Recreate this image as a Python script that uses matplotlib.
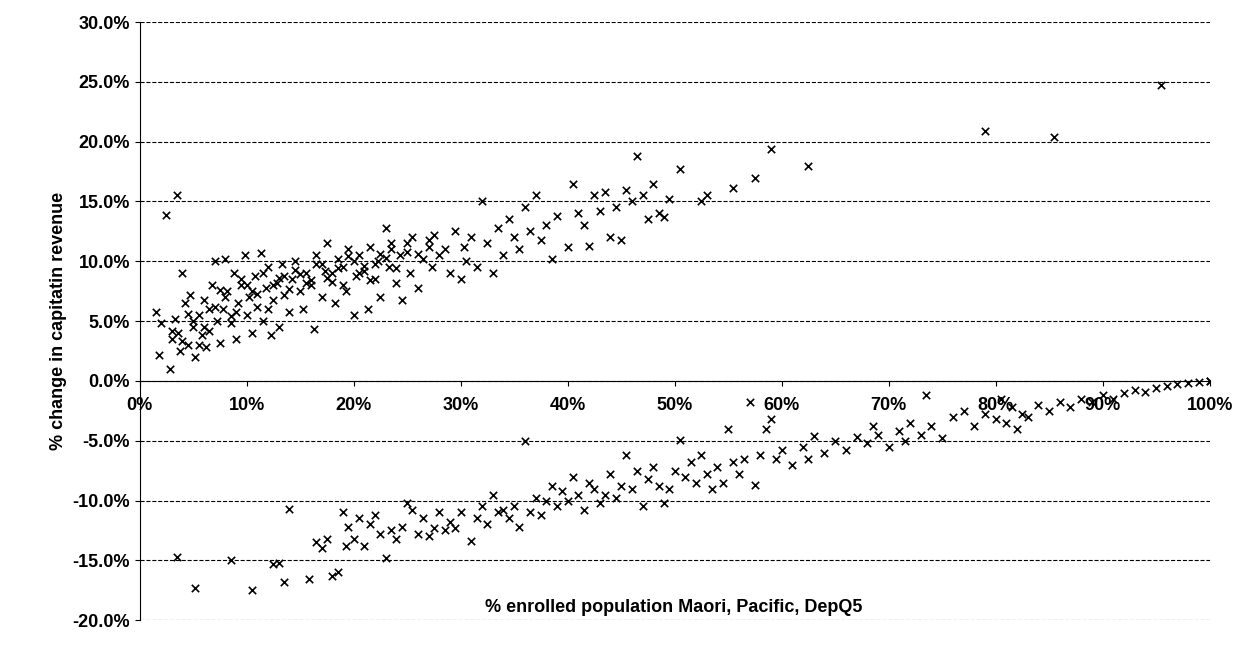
import numpy as np
import matplotlib.pyplot as plt
from matplotlib.ticker import FuncFormatter

plt.rcParams['font.family'] = ['Liberation Sans', 'DejaVu Sans']
plt.rcParams['axes.unicode_minus'] = False

# upper group (x %, y %)
upper_x = [1.5,1.8,2,2.5,2.8,3,3.3,3.5,3.6,3.8,4,4.2,4.5,4.7,5,5.2,5.5,5.8,6,6.2,6.5,6.8,7,7.2,7.5,7.8,8,8.2,8.5,8.8,
           9,9.2,9.5,9.8,10,10.2,10.5,10.8,11,11.3,11.5,11.8,12,12.3,12.5,12.8,13,13.3,13.5,14,14.2,14.5,15,15.3,15.5,
           16,16.3,16.5,17,17.3,17.5,18,18.3,18.5,19,19.3,19.5,20,20.2,20.5,21,21.3,21.5,22,22.3,22.5,23,23.3,23.5,24,
           24.3,24.5,25,25.3,25.5,26,26.5,27,27.3,27.5,28,28.5,29,29.5,30,30.3,30.5,31,31.5,32,32.5,33,33.5,34,34.5,35,
           35.5,36,36.5,37,37.5,38,38.5,39,40,40.5,41,41.5,42,42.5,43,43.5,44,44.5,45,45.5,46,46.5,47,47.5,48,48.5,49,
           49.5,50.5,52.5,53,55.5,57.5,59,62.5,79,85.5,95.5]
upper_y = [5.8,2.2,4.8,13.9,1.0,3.5,5.2,15.5,4.0,2.5,9.0,6.5,3.0,7.2,4.5,2.0,5.5,3.8,6.8,2.8,4.2,8.0,10.0,5.0,3.2,6.0,10.2,
           7.5,4.8,9.0,3.5,6.5,8.5,10.5,5.5,7.0,4.0,8.8,6.2,10.7,5.0,7.8,9.5,3.8,6.8,8.2,4.5,9.8,7.2,5.8,8.5,10.0,7.5,6.0,
           9.0,8.0,4.3,10.5,7.0,9.2,11.5,8.3,6.5,10.2,9.5,7.5,11.0,5.5,8.8,10.5,9.2,6.0,11.2,8.5,10.0,7.0,12.8,9.5,11.0,
           8.2,10.5,6.8,11.5,9.0,12.0,7.8,10.2,11.8,9.5,12.2,10.5,11.0,9.0,12.5,8.5,11.2,10.0,12.0,9.5,15.0,11.5,9.0,12.8,
           10.5,13.5,12.0,11.0,14.5,12.5,15.5,11.8,13.0,10.2,13.8,11.2,16.5,14.0,13.0,11.3,15.5,14.2,15.8,12.0,14.5,11.8,
           16.0,15.0,18.8,15.5,13.5,16.5,14.0,13.7,15.2,17.7,15.0,15.5,16.1,17.0,19.4,18.0,20.9,20.4,24.7]

# extra points in the dense part of the upper group
dense_x = [3,4,5,6,7,8,9,10,11,12,13,14,15,16,17,18,19,20,21,22,23,24,25,26,27,
           4.5,5.5,6.5,7.5,8.5,9.5,10.5,11.5,12.5,13.5,14.5,15.5,16.5,17.5,18.5,19.5,20.5,21.5,22.5,23.5]
dense_y = [4.2,3.3,5.0,4.5,6.2,7.0,5.8,8.0,7.3,6.0,8.6,7.7,8.9,8.4,9.8,9.0,8.0,10.0,9.6,9.8,10.3,9.4,10.8,10.6,11.2,
           5.6,3.0,6.0,7.6,5.4,8.0,7.5,9.0,8.0,8.8,9.3,8.2,9.8,8.6,9.4,10.4,9.0,8.4,10.6,11.5]

# lower group (x %, y %)
lower_x = [3.5,5.2,8.5,10.5,12.5,13,13.5,14,15.8,16.5,17,17.5,18,18.5,19,19.3,19.5,20,20.5,21,21.5,22,22.5,23,23.5,24,24.5,
           25,25.5,26,26.5,27,27.5,28,28.5,29,29.5,30,31,31.5,32,32.5,33,33.5,34,34.5,35,35.5,36,36.5,37,37.5,38,38.5,39,
           39.5,40,40.5,41,41.5,42,42.5,43,43.5,44,44.5,45,45.5,46,46.5,47,47.5,48,48.5,49,49.5,50,50.5,51,51.5,52,52.5,
           53,53.5,54,54.5,55,55.5,56,56.5,57,57.5,58,58.5,59,59.5,60,61,62,62.5,63,64,65,66,67,68,68.5,69,70,71,71.5,72,
           73,73.5,74,75,76,77,78,79,80,80.5,81,81.5,82,82.5,83,84,85,86,87,88,89,90,91,92,93,94,95,96,97,98,99,100,100]
lower_y = [-14.7,-17.3,-15.0,-17.5,-15.3,-15.2,-16.8,-10.7,-16.6,-13.5,-14.0,-13.2,-16.3,-16.0,-11.0,-13.8,-12.2,-13.2,-11.5,
           -13.8,-12.0,-11.2,-12.8,-14.8,-12.5,-13.2,-12.2,-10.2,-10.8,-12.8,-11.5,-13.0,-12.3,-11.0,-12.5,-11.8,-12.3,-11.0,
           -13.4,-11.5,-10.5,-12.0,-9.5,-11.0,-10.8,-11.5,-10.5,-12.2,-5.0,-11.0,-9.8,-11.2,-10.0,-8.8,-10.5,-9.2,-10.0,-8.0,
           -9.5,-10.8,-8.5,-9.0,-10.2,-9.5,-7.8,-9.8,-8.8,-6.2,-9.0,-7.5,-10.5,-8.2,-7.2,-8.8,-10.2,-9.0,-7.5,-4.9,-8.0,-6.8,
           -8.5,-6.2,-7.8,-9.0,-7.2,-8.5,-4.0,-6.8,-7.8,-6.5,-1.8,-8.7,-6.2,-4.0,-3.2,-6.5,-5.8,-7.0,-5.5,-6.5,-4.6,-6.0,-5.0,
           -5.8,-4.7,-5.2,-3.8,-4.5,-5.5,-4.2,-5.0,-3.5,-4.5,-1.2,-3.8,-4.8,-3.0,-2.5,-3.8,-2.8,-3.2,-1.5,-3.5,-2.2,-4.0,-2.8,
           -3.0,-2.0,-2.5,-1.8,-2.2,-1.5,-1.8,-1.2,-1.5,-1.0,-0.8,-0.9,-0.6,-0.4,-0.3,-0.2,-0.1,0.0,-0.05]

fig = plt.figure(figsize=(12.47, 6.48), dpi=100)
ax = fig.add_axes([0.112, 0.043, 0.858, 0.923])

for xs, ys in [(upper_x, upper_y), (dense_x, dense_y), (lower_x, lower_y)]:
    ax.scatter(np.array(xs) / 100, np.array(ys) / 100, marker='x', color='black', s=28, linewidths=1.2)

ax.set_xlim(0, 1)
ax.set_ylim(-0.2, 0.3)
ax.set_xticks(np.arange(0, 1.01, 0.1))
ax.set_yticks(np.arange(-0.2, 0.301, 0.05))
ax.xaxis.set_major_formatter(FuncFormatter(lambda v, p: '%d%%' % round(v * 100)))
ax.yaxis.set_major_formatter(FuncFormatter(lambda v, p: '%.1f%%' % (round(v * 1000) / 10 + 0.0)))
ax.grid(axis='y', linestyle='--', color='black', linewidth=0.8)
ax.set_axisbelow(True)
ax.spines['bottom'].set_position(('data', 0))
ax.spines['top'].set_visible(False)
ax.spines['right'].set_visible(False)
ax.tick_params(labelsize=13)
ax.tick_params(axis='x', pad=8)
for lab in ax.get_xticklabels() + ax.get_yticklabels():
    lab.set_fontweight('bold')

ax.set_ylabel('% change in capitatin revenue', fontsize=13, fontweight='bold')
fig.text(0.54, 0.055, '% enrolled population Maori, Pacific, DepQ5', ha='center', fontsize=13, fontweight='bold')

plt.savefig('out.png')
